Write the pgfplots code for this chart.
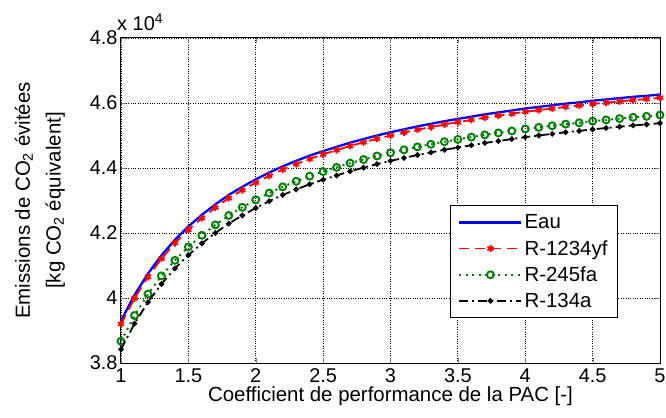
\documentclass[border=0pt]{standalone}
\usepackage{pgfplots}
\pgfplotsset{compat=1.18}
\usepackage{pgfplotstable}
\usepackage{fontspec}
\setmainfont{Liberation Sans}

\definecolor{mgreen}{rgb}{0,0.5,0}

% COP ; Eau ; R-1234yf ; R-245fa ; R-134a  (values in 10^4 kg CO2 eq)
\pgfplotstableread{
x   eau    ryf    rfa    rha
1.0 3.930  3.920  3.867  3.842
1.1 4.009  3.999  3.946  3.921
1.2 4.075  4.065  4.012  3.987
1.3 4.131  4.121  4.068  4.043
1.4 4.179  4.169  4.116  4.091
1.5 4.220  4.210  4.157  4.132
1.6 4.256  4.246  4.193  4.168
1.7 4.288  4.278  4.225  4.200
1.8 4.317  4.307  4.254  4.229
1.9 4.342  4.332  4.279  4.254
2.0 4.365  4.355  4.302  4.277
2.1 4.386  4.376  4.323  4.298
2.2 4.405  4.395  4.342  4.317
2.3 4.422  4.412  4.359  4.334
2.4 4.438  4.428  4.375  4.350
2.5 4.452  4.442  4.389  4.364
2.6 4.465  4.455  4.402  4.377
2.7 4.478  4.468  4.415  4.390
2.8 4.489  4.479  4.426  4.401
2.9 4.500  4.490  4.437  4.412
3.0 4.510  4.500  4.447  4.422
3.1 4.519  4.509  4.456  4.431
3.2 4.528  4.518  4.465  4.440
3.3 4.536  4.526  4.473  4.448
3.4 4.544  4.534  4.481  4.456
3.5 4.551  4.541  4.488  4.463
3.6 4.558  4.548  4.495  4.470
3.7 4.565  4.555  4.502  4.477
3.8 4.571  4.561  4.508  4.483
3.9 4.577  4.567  4.514  4.489
4.0 4.583  4.573  4.520  4.495
4.1 4.588  4.578  4.525  4.500
4.2 4.593  4.583  4.530  4.505
4.3 4.598  4.588  4.535  4.510
4.4 4.602  4.592  4.539  4.514
4.5 4.607  4.597  4.544  4.519
4.6 4.611  4.601  4.548  4.523
4.7 4.615  4.605  4.552  4.527
4.8 4.619  4.609  4.556  4.531
4.9 4.622  4.612  4.559  4.534
5.0 4.626  4.616  4.563  4.538
}\data

\begin{document}
\begin{tikzpicture}
\begin{axis}[
    scale only axis,
    width=539bp, height=325bp,
    clip mode=individual,
    xmin=1, xmax=5, ymin=3.8, ymax=4.8,
    xtick={1,1.5,...,5},
    xticklabels={1,1.5,2,2.5,3,3.5,4,4.5,5},
    ytick={3.8,4,4.2,4.4,4.6,4.8},
    yticklabels={3.8,4,4.2,4.4,4.6,4.8},
    tick label style={font=\fontsize{20}{24}\selectfont},
    label style={font=\fontsize{20.5}{31}\selectfont},
    xlabel={Coefficient de performance de la PAC [-]},
    ylabel={Emissions de CO\textsubscript{2} évitées\\{}[kg CO\textsubscript{2} équivalent]},
    ylabel style={align=center, yshift=18bp},
    xlabel style={yshift=3bp},
    xticklabel style={yshift=-2bp},
    grid=major,
    major grid style={black, dotted, line width=0.8pt},
    tick align=inside,
    major tick length=5bp,
    axis line style={black, line width=1pt},
    legend cell align=left,
    legend style={at={(0.922,0.138)}, anchor=south east, draw=black,
        line width=1pt, font=\fontsize{20.5}{24}\selectfont,
        row sep=6bp, inner xsep=8bp, inner ysep=7bp},
    legend image code/.code={%
        \draw[mark repeat=2,mark phase=2,#1] plot coordinates {(0bp,0bp) (31bp,0bp) (62bp,0bp)};},
]
\addplot[blue, line width=2.3pt] table[x=x, y=eau] {\data};
\addlegendentry{Eau}
\addplot[red, line width=1.8pt, dash pattern=on 10bp off 6bp, mark=asterisk, mark size=3.5bp,
    mark options={solid, line width=1.8pt}] table[x=x, y=ryf] {\data};
\addlegendentry{R-1234yf}
\addplot[mgreen, line width=2pt, dash pattern=on 2bp off 4.5bp, mark=o, mark size=3.5bp,
    mark options={solid, line width=1.9pt}] table[x=x, y=rfa] {\data};
\addlegendentry{R-245fa}
\addplot[black, line width=1.8pt, dash pattern=on 9bp off 4bp on 2bp off 4bp, mark=*, mark size=1.8bp,
    mark options={solid}] table[x=x, y=rha] {\data};
\addlegendentry{R-134a}
\node[anchor=south west, inner sep=0pt, font=\fontsize{20}{24}\selectfont]
    at ([xshift=-4bp,yshift=7bp]rel axis cs:0,1) {x 10\textsuperscript{4}};
\end{axis}
\pgfresetboundingbox
\path (-121bp,-55bp) rectangle (545bp,363bp);
\end{tikzpicture}
\end{document}
